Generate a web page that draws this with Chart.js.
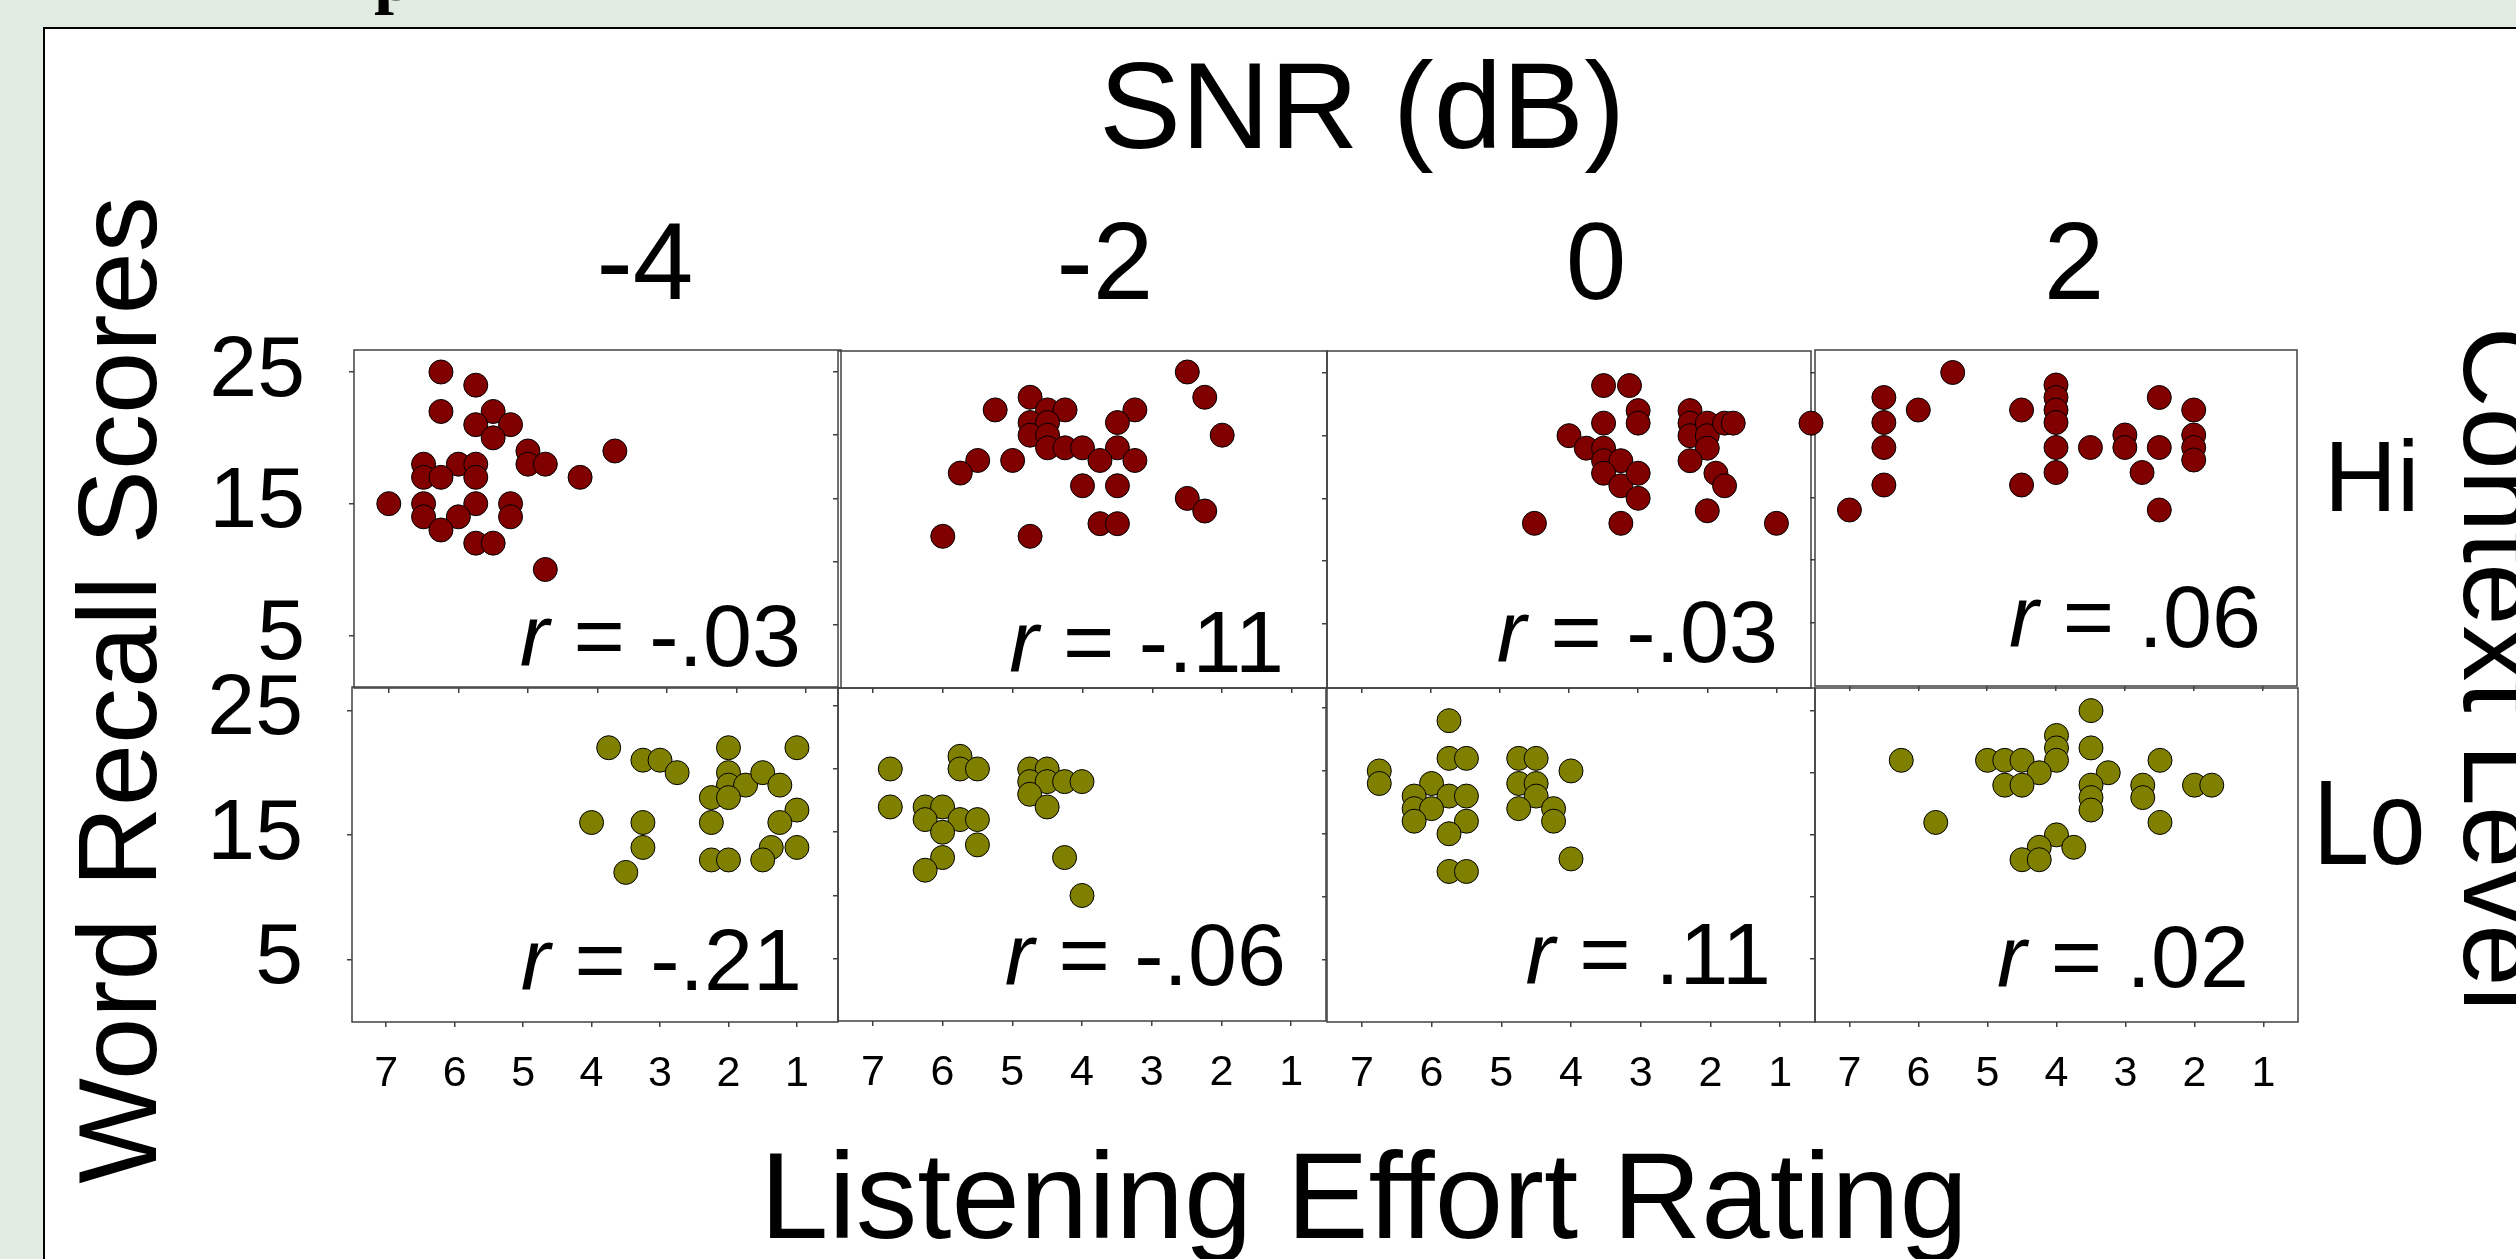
<!DOCTYPE html>
<html>
<head>
<meta charset="utf-8">
<title>Word Recall Scores vs Listening Effort Rating</title>
<script src="https://cdn.jsdelivr.net/npm/chart.js@4.4.1/dist/chart.umd.min.js"></script>
<style>
  html, body { margin: 0; padding: 0; }
  body { width: 2516px; height: 1259px; overflow: hidden; position: relative;
         background: #e1ebe2; font-family: "Liberation Sans", Arial, Helvetica, sans-serif; }
  #frame { position: absolute; left: 43px; top: 27px; width: 2600px; height: 1400px;
           background: #fff; border-left: 2px solid #000; border-top: 2px solid #000; }
  .lbl { position: absolute; white-space: nowrap; line-height: 1; color: #000; }
  #peek { position: absolute; left: 374px; top: -60px; font: bold 72px "Liberation Serif", "Times New Roman", serif;
          line-height: 1; color: #000; }
  canvas { position: absolute; }
</style>
</head>
<body>
<div id="peek">p</div>
<div id="frame"></div>
<div id="stage"></div>
<script>
// ---------------- data ----------------
const snrLabels = ['-4', '-2', '0', '2'];
const contextLabels = ['Hi', 'Lo'];
const effortTicks = [1, 2, 3, 4, 5, 6, 7];
const recallTicksLabelled = [5, 15, 25];
const recallTicksAll = [5, 10, 15, 20, 25];
const rHi = ['-.03', '-.11', '-.03', '.06'];
const rLo = ['-.21', '-.06', '.11', '.02'];

// High context
const hiM4Effort = [6.25,5.75,6.25,5.5,5.75,5.25,5.5,5.0,3.75,6.5,6.0,5.75,5.0,4.75,6.5,6.25,5.75,4.25,7.0,6.5,5.75,5.25,6.5,6.0,5.25,6.25,5.75,5.5,4.75];
const hiM4Recall = [25,24,22,22,21,21,20,19,19,18,18,18,18,18,17,17,17,17,15,15,15,15,14,14,14,13,12,12,10];
const hiM2Effort = [2.5,2.25,2.0,4.75,4.5,4.25,5.25,3.25,4.75,4.5,3.5,4.75,4.5,4.5,4.25,4.0,3.5,5.5,5.0,3.75,3.25,5.75,4.0,3.5,2.5,2.25,3.75,3.5,6.0,4.75];
const hiM2Recall = [25,23,20,23,22,22,22,22,21,21,21,20,20,19,19,19,19,18,18,18,18,17,16,16,15,14,13,13,12,12];
const hi0Effort  = [3.5,3.125,3.0,3.0,3.5,4.0,3.75,3.5,3.5,3.25,3.5,3.25,3.0,3.0,3.25,4.5,2.25,2.25,2.25,2.0,2.0,2.0,1.75,1.625,2.25,1.875,1.75,2.0,1.0,0.5];
const hi0Recall  = [24,24,22,21,21,20,19,19,18,18,17,16,17,15,13,13,22,21,20,21,20,19,21,21,18,17,16,14,13,21];
const hiP2Effort = [7.0,6.5,6.5,6.5,6.5,6.0,5.5,4.5,4.5,4.0,4.0,4.0,4.0,4.0,4.0,3.5,3.0,3.0,2.75,2.5,2.5,2.5,2.0,2.0,2.0,2.0];
const hiP2Recall = [14,23,21,19,16,22,25,22,16,24,23,22,21,19,17,19,20,19,17,23,19,14,22,20,19,18];

// Low context
const loM4Effort = [3.75,3.25,3.0,2.75,2.0,2.0,2.0,1.75,1.5,1.25,1.0,2.25,2.0,1.0,1.25,2.25,4.0,3.25,3.25,1.375,1.0,2.25,2.0,1.5,3.5];
const loM4Recall = [22,21,21,20,22,20,19,19,20,19,22,18,18,17,16,16,16,16,14,14,14,13,13,13,12];
const loM2Effort = [6.75,6.75,5.75,5.75,5.5,6.25,6.0,6.25,5.75,5.5,6.0,5.5,6.0,6.25,4.75,4.5,4.75,4.5,4.25,4.0,4.75,4.5,4.25,4.0];
const loM2Recall = [20,17,21,20,20,17,17,16,16,16,15,14,13,12,20,20,19,19,19,19,18,17,13,10];
const lo0Effort  = [5.75,5.75,5.5,6.75,6.75,6.0,6.25,5.75,5.5,6.25,6.0,6.25,5.5,5.75,5.75,5.5,4.75,4.5,4.75,4.5,4.5,4.75,4.25,4.25,4.0,4.0];
const lo0Recall  = [24,21,21,20,19,19,18,18,18,17,17,16,16,15,12,12,21,21,19,19,18,17,17,16,20,13];
const loP2Effort = [3.5,4.0,4.0,4.0,3.5,6.25,5.0,4.75,4.5,4.25,3.25,2.5,4.75,4.5,3.5,3.5,3.5,2.75,2.75,2.0,1.75,5.75,2.5,4.0,4.25,3.75,4.5,4.25];
const loP2Recall = [25,23,22,21,22,21,21,21,21,20,20,21,19,19,19,18,17,19,18,19,19,16,16,15,14,14,13,13];

// ---------------- styling / layout ----------------
const FONT = '"Liberation Sans", Arial, Helvetica, sans-serif';
const hiColor = '#800000';
const loColor = '#808000';

// panel plot rectangles [left, top, right, bottom] in page pixels
const panelBoxes = [
  [354, 350, 841, 688], [838, 351, 1327, 688], [1327, 351, 1811, 688], [1815, 350, 2297, 686],
  [352, 687, 838, 1022], [838, 688, 1326, 1021], [1327, 688, 1815, 1022], [1815, 688, 2298, 1022]
];
const yRanges = [[1, 26.67], [0, 26.66], [-0.15, 26.76], [-0.08, 26.8],
                 [0, 26.87], [0.08, 26.4], [0.02, 26.6], [-0.06, 26.82]];
const xRanges = [[0.5, 7.5], [0.5, 7.5], [0.5, 7.5], [0.5, 7.5],
                 [0.4, 7.5], [0.5, 7.5], [0.5, 7.5], [0.5, 7.5]];
// r label: [gap from right edge to visible text end, baseline distance above bottom]
const rPlacement = [[43, 22], [47, 16], [36, 26], [39, 39], [40, 32], [43, 36], [48, 38], [53, 35]];

const seriesEffort = [hiM4Effort, hiM2Effort, hi0Effort, hiP2Effort, loM4Effort, loM2Effort, lo0Effort, loP2Effort];
const seriesRecall = [hiM4Recall, hiM2Recall, hi0Recall, hiP2Recall, loM4Recall, loM2Recall, lo0Recall, loP2Recall];
const rTexts = rHi.concat(rLo);

const panelDecor = {
  id: 'panelDecor',
  beforeDatasetsDraw(chart, args, o) {
    const { ctx, chartArea: a } = chart;
    ctx.save();
    ctx.strokeStyle = '#404040';
    ctx.lineWidth = 1.5;
    ctx.strokeRect(a.left, a.top, a.right - a.left, a.bottom - a.top);
    ctx.restore();
  },
  afterDatasetsDraw(chart, args, o) {
    const { ctx, chartArea: a } = chart;
    ctx.save();
    ctx.fillStyle = '#000';
    ctx.textBaseline = 'alphabetic';
    ctx.textAlign = 'left';
    const fs = o.fontSize;
    ctx.font = fs + 'px ' + FONT;
    const rest = ' = ' + o.text;
    const m = ctx.measureText(rest);
    const x0 = a.right - o.dx - m.actualBoundingBoxRight;
    const y = a.bottom - o.dy;
    ctx.fillText(rest, x0, y);
    ctx.font = 'italic ' + fs + 'px ' + FONT;
    const rw = ctx.measureText('r').width;
    ctx.fillText('r', x0 - rw, y);
    ctx.restore();
  }
};

function zeroPad(s) { s.paddingLeft = 0; s.paddingRight = 0; s.paddingTop = 0; s.paddingBottom = 0; }

const stage = document.getElementById('stage');
for (let i = 0; i < 8; i++) {
  const col = i % 4, row = Math.floor(i / 4);
  const box = panelBoxes[i];
  const padL = col === 0 ? 230 : 30, padR = 30, padT = 40, padB = row === 1 ? 100 : 30;
  const cw = box[2] - box[0] + padL + padR;
  const ch = box[3] - box[1] + padT + padB;
  const cv = document.createElement('canvas');
  cv.width = cw; cv.height = ch;
  cv.style.left = (box[0] - padL) + 'px';
  cv.style.top = (box[1] - padT) + 'px';
  cv.style.width = cw + 'px'; cv.style.height = ch + 'px';
  cv.style.zIndex = (i === 2) ? 5 : (i + 1);
  stage.appendChild(cv);

  const eff = seriesEffort[i], rec = seriesRecall[i];
  const pts = eff.map((x, k) => ({ x: x, y: rec[k] }));
  const yTicks = col === 0 ? recallTicksLabelled : recallTicksAll;

  new Chart(cv, {
    type: 'scatter',
    data: {
      datasets: [{
        label: contextLabels[row] + ' ' + snrLabels[col] + ' dB',
        data: pts,
        backgroundColor: row === 0 ? hiColor : loColor,
        borderColor: '#000',
        borderWidth: 1,
        pointRadius: 12,
        pointHoverRadius: 12,
        clip: false
      }]
    },
    options: {
      responsive: false,
      animation: false,
      devicePixelRatio: 1,
      events: [],
      layout: { padding: { left: 0, top: padT, right: padR, bottom: 0 } },
      plugins: {
        legend: { display: false },
        tooltip: { enabled: false },
        panelDecor: { text: rTexts[i], dx: rPlacement[i][0], dy: rPlacement[i][1], fontSize: 88 }
      },
      scales: {
        x: {
          type: 'linear', reverse: true, min: xRanges[i][0], max: xRanges[i][1],
          afterBuildTicks: s => { s.ticks = effortTicks.map(v => ({ value: v })); },
          afterFit: s => { s.height = padB; zeroPad(s); },
          ticks: { display: row === 1, autoSkip: false, maxRotation: 0, minRotation: 0,
                   font: { family: FONT, size: 43 }, color: '#000', padding: 21,
                   callback: v => String(v) },
          grid: { display: true, drawOnChartArea: false, drawTicks: true, tickLength: 5, color: '#404040', lineWidth: 1.5 },
          border: { display: false }
        },
        y: {
          type: 'linear', min: yRanges[i][0], max: yRanges[i][1],
          afterBuildTicks: s => { s.ticks = yTicks.map(v => ({ value: v })); },
          afterFit: s => { s.width = padL; zeroPad(s); },
          ticks: { display: col === 0, autoSkip: false,
                   font: { family: FONT, size: 86 }, color: '#000', padding: 44,
                   callback: v => String(v) },
          grid: { display: true, drawOnChartArea: false, drawTicks: true, tickLength: 5, color: '#404040', lineWidth: 1.5 },
          border: { display: false }
        }
      }
    },
    plugins: [panelDecor]
  });
}

// ---------------- figure-level text ----------------
function addLabel(text, css) {
  const d = document.createElement('div');
  d.className = 'lbl';
  d.textContent = text;
  Object.assign(d.style, css);
  document.body.appendChild(d);
  return d;
}
// baseline offset for line-height:1 is 0.8465 * font-size
addLabel('SNR (dB)', { left: (1362 - 600) + 'px', width: '1200px', textAlign: 'center',
  top: (148 - 0.8465 * 123) + 'px', fontSize: '123px', zIndex: 20 });
const colCenters = [645, 1105, 1596, 2074];
snrLabels.forEach((t, k) => addLabel(t, { left: (colCenters[k] - 150) + 'px', width: '300px', textAlign: 'center',
  top: (299 - 0.8465 * 109) + 'px', fontSize: '109px', zIndex: 20 }));
addLabel(contextLabels[0], { left: '2324px', top: (511 - 0.8465 * 101) + 'px', fontSize: '101px', zIndex: 20 });
addLabel(contextLabels[1], { left: '2313px', top: (864 - 0.8465 * 101) + 'px', fontSize: '101px', zIndex: 20,
  transformOrigin: '50% ' + (0.8465 * 101) + 'px', transform: 'scaleY(1.2)' });
addLabel('Word Recall Scores', { left: (118 - 550) + 'px', width: '1100px', height: '112px', textAlign: 'center',
  top: (690 - 56) + 'px', fontSize: '112px', transform: 'rotate(-90deg)', zIndex: 20 });
addLabel('Context Level', { left: (2502 - 550) + 'px', width: '1100px', height: '112px', textAlign: 'center',
  top: (669 - 56) + 'px', fontSize: '112px', transform: 'rotate(90deg)', zIndex: 20 });
addLabel('Listening Effort Rating', { left: (1364 - 800) + 'px', width: '1600px', textAlign: 'center',
  top: (1238 - 0.8465 * 123) + 'px', fontSize: '123px', zIndex: 20 });
</script>
</body>
</html>
